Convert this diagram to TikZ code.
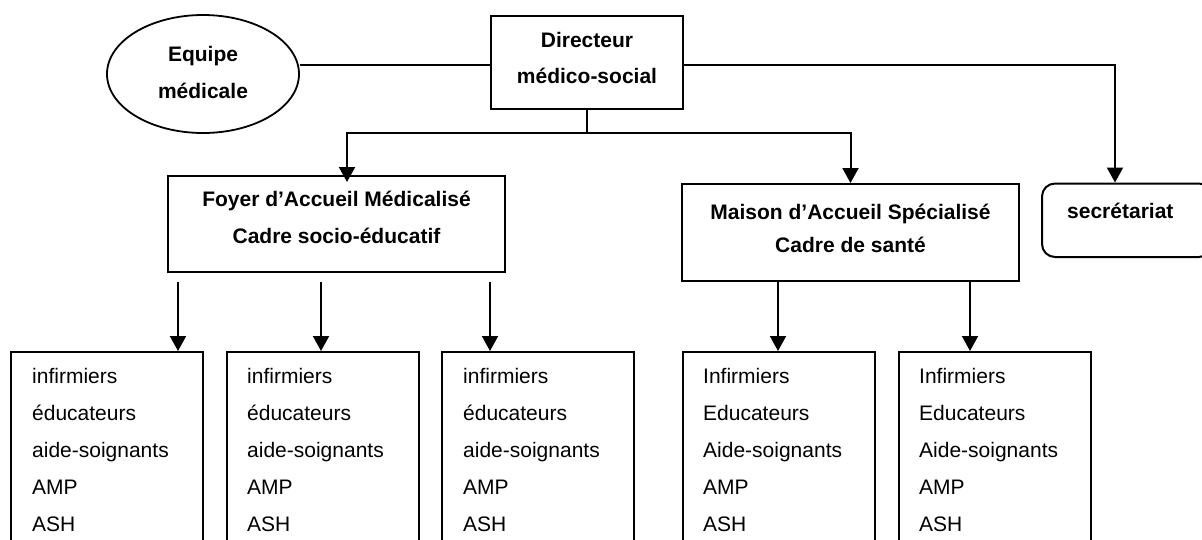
\documentclass[tikz,border=0pt]{standalone}
\usepackage{fontspec}
\setmainfont{Liberation Sans}
\usetikzlibrary{arrows.meta,shapes.geometric,calc}
\begin{document}
\begin{tikzpicture}[x=1pt,y=-1pt,
  link/.style={line width=2pt},
  arr/.style={link,-{Triangle[width=16pt,length=15pt]}},
  box/.style={draw,rectangle,line width=2pt,inner sep=0pt},
  title/.style={font=\bfseries\fontsize{21}{#1}\selectfont,anchor=base,inner sep=0pt},
  title/.default=36,
  item/.style={font=\fontsize{21}{37}\selectfont,anchor=base west,inner sep=0pt},
]
\useasboundingbox (0,0) rectangle (1202,539);
\clip (0,0) rectangle (1202,539);

% top row: medical team, director, secretariat
\node[draw,ellipse,line width=1.8pt,minimum width=192pt,minimum height=118pt,inner sep=0pt] (equipe) at (203,74) {};
\node[title=36.6] (equipeT) at (203,61.7) {\begin{tabular}[t]{@{}c@{}}Equipe\\ médicale\end{tabular}};

\node[box,minimum width=192pt,minimum height=93pt] (dir) at (587,62.5) {};
\node[title] (dirT) at (587,47.3) {\begin{tabular}[t]{@{}c@{}}Directeur\\ médico-social\end{tabular}};

\node[box,rounded corners=13pt,minimum width=170pt,minimum height=73.5pt] (secr) at (1127,220.25) {};
\node[item] (secrT) at (1067,218.3) {\bfseries secrétariat};

% the two establishments
\node[box,minimum width=337pt,minimum height=96pt] (foyer) at (336.5,224) {};
\node[title=36.6] (foyerT) at (336.5,206.7) {\begin{tabular}[t]{@{}c@{}}Foyer d’Accueil Médicalisé\\ Cadre socio-éducatif\end{tabular}};

\node[box,minimum width=337pt,minimum height=97pt] (maison) at (850.5,232.5) {};
\node[title=33.4] (maisonT) at (850.5,219.3) {\begin{tabular}[t]{@{}c@{}}Maison d’Accueil Spécialisé\\ Cadre de santé\end{tabular}};

% staff lists
\foreach \n/\cx in {1/107,2/323,3/538,4/778.5,5/994.5}
  \node[box,minimum width=192pt,minimum height=208pt] (list\n) at (\cx,456) {};
\foreach \n/\tx in {1/32,2/247,3/463}
  \node[item] (list\n T) at (\tx,383) {\begin{tabular}[t]{@{}l@{}}infirmiers\\ éducateurs\\ aide-soignants\\ AMP\\ ASH\end{tabular}};
\foreach \n/\tx in {4/703,5/919}
  \node[item] (list\n T) at (\tx,383) {\begin{tabular}[t]{@{}l@{}}Infirmiers\\ Educateurs\\ Aide-soignants\\ AMP\\ ASH\end{tabular}};

% connectors
\draw[link] ([yshift=-2.5pt]dir.west) -- ([yshift=-2.5pt]dir.west -| equipe.east);
\draw[arr] ([yshift=-2.5pt]dir.east) -| ([xshift=-12pt]secr.north);

\coordinate (bus) at ([yshift=-23pt]dir.south);
\draw[link] (dir.south) -- (bus);
\draw[arr,shorten >=-7pt] (bus) -| ([xshift=10.5pt]foyer.north);
\draw[arr] (bus) -| (maison.north);

\coordinate (d1) at ([xshift=11pt]foyer.south west);
\coordinate (d2) at ([xshift=154pt]foyer.south west);
\coordinate (d3) at ([xshift=323pt]foyer.south west);
\foreach \n in {1,2,3}
  \draw[arr,shorten <=9pt] (d\n) -- (d\n |- list\n.north);

\coordinate (m1) at ([xshift=97pt]maison.south west);
\coordinate (m2) at ([xshift=289pt]maison.south west);
\draw[arr] (m1) -- (m1 |- list4.north);
\draw[arr] (m2) -- (m2 |- list5.north);
\end{tikzpicture}
\end{document}
